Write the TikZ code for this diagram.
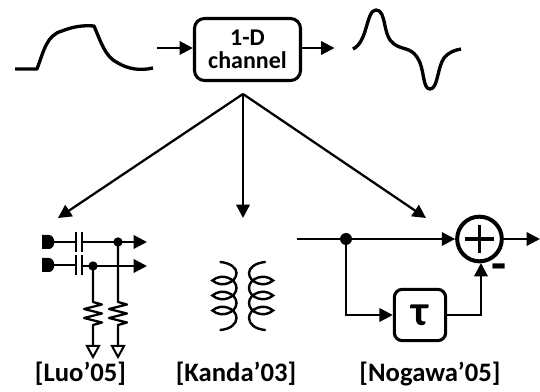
\documentclass[tikz,border=0pt]{standalone}
\usepackage{fontspec}
\setmainfont{Carlito}
\usetikzlibrary{arrows.meta}
\tikzset{
  x=0.75pt,y=-0.75pt,
  wire/.style={line width=1.7pt,line join=miter},
  arr/.style={wire,-{Triangle[length=10pt,width=10pt]}},
  wave/.style={line width=2.5pt,line cap=butt,line join=round},
  roundbox/.style={draw,line width=2.3pt,rounded corners=7.5pt,inner sep=0pt,align=center,font=\bfseries\fontsize{18}{17.25}\selectfont},
  lab/.style={font=\bfseries\fontsize{20}{22}\selectfont,inner sep=0pt,anchor=base},
  dot/.style={circle,fill=black,draw=none,minimum size=9pt,inner sep=0pt},
  gnd/.style={draw,line width=1.5pt,fill=white,line join=miter},
  plate/.style={line width=1.9pt},
  coil/.style={line width=1.8pt,line cap=round},
}
\begin{document}
\begin{tikzpicture}
\useasboundingbox (0,0) rectangle (540,392);
% input and output waveforms
\draw[wave] (15,69) -- (37,69) .. controls (44,50) and (47,35) .. (62,31)
  .. controls (72,27) and (82,25) .. (94,26)
  .. controls (101,42) and (105,57) .. (118,63)
  .. controls (128,69) and (140,71) .. (153,68);
\draw[wave] (353,49) .. controls (368,42) and (366,10) .. (376,10)
  .. controls (387,10) and (382,36) .. (394,44)
  .. controls (402,50) and (410,47) .. (417,57)
  .. controls (425,68) and (422,89) .. (430,89)
  .. controls (438,89) and (437,68) .. (444,58)
  .. controls (449,52) and (455,50) .. (461,49);
% channel box
\node[roundbox,minimum width=79.5pt,minimum height=46.5pt] (chan) at (247.5,49.5) {1-D\\channel};
\coordinate (inL) at (157,48);
\coordinate (outR) at (334.5,48);
\coordinate (outS) at (299,48);
\draw[arr] (inL) -- (chan.west |- inL);
\draw[arr] (outS) -- (outR);
% fan-out
\coordinate (fan) at (243,94);
\coordinate (f1) at (58,218);
\coordinate (f2) at (243,218);
\coordinate (f3) at (426,218);
\draw[arr] (fan) -- (f1);
\draw[arr] (fan) -- (f2);
\draw[arr] (fan) -- (f3);
% Luo circuit
\coordinate (pa) at (53,242);
\coordinate (pb) at (53,265);
\fill (42,235) -- (49,235) .. controls (56,235) and (56,249) .. (49,249) -- (42,249) -- cycle;
\fill (42,258) -- (49,258) .. controls (56,258) and (56,272) .. (49,272) -- (42,272) -- cycle;
\coordinate (ca1) at (76,242);
\coordinate (ca2) at (82,242);
\coordinate (cb1) at (76,265);
\coordinate (cb2) at (82,265);
\coordinate (ta) at (147,242);
\coordinate (tb) at (147,266);
\draw[wire] (pa) -- (ca1);
\draw[wire] (pb) -- (cb1);
\draw[plate] (76,232) -- (76,252) (82,232) -- (82,252);
\draw[plate] (76,255) -- (76,275) (82,255) -- (82,275);
\draw[arr] (ca2) -- (ta);
\draw[arr] (cb2 |- tb) -- (tb);
\node[dot,minimum size=7pt] (da) at (118,242) {};
\node[dot,minimum size=7pt] (db) at (93,266) {};
\foreach \cx/\dn in {93/db,118/da}{
  \draw[wire,line join=round] (\dn.center) -- (\cx,302) -- ++(9,2.5) -- ++(-18,4.5) -- ++(18,4.5) -- ++(-18,4.5) -- ++(18,4.5) -- ++(-9,2.5) -- (\cx,346);
  \draw[gnd] (\cx-6,346) -- (\cx+6,346) -- (\cx,357) -- cycle;
}
\node[lab] (l1) at (80.5,382) {[Luo’05]};
% Kanda transformer: two helices, mirrored
\foreach \xc/\s in {224.5/1,261/-1}{
  \draw[coil] (\xc-\s*4,262) .. controls (\xc+\s*6,263) and (\xc+\s*12,268) .. (\xc+\s*12,273);
  \foreach \yy in {273,288,303}{
    \draw[coil] (\xc+\s*12,\yy) .. controls (\xc+\s*12,\yy+9.5) and (\xc-\s*3,\yy+15.5) .. (\xc-\s*12,\yy+7.5)
      .. controls (\xc-\s*3,\yy-0.5) and (\xc+\s*12,\yy+5.5) .. (\xc+\s*12,\yy+15);
  }
  \draw[coil] (\xc+\s*12,318) .. controls (\xc+\s*12,324) and (\xc+\s*6,329) .. (\xc-\s*4,330);
}
\node[lab] (l2) at (236,382) {[Kanda’03]};
% Nogawa delay
\coordinate (in3) at (297,239);
\node[dot] (d3) at (346,239) {};
\node[circle,draw,line width=3pt,minimum size=33.5pt,inner sep=0pt] (sum) at (479.5,239) {};
\draw[line width=2.3pt] (465,239) -- (494,239) (479.5,225) -- (479.5,253);
\coordinate (o3) at (540,239);
\draw[wire] (in3) -- (d3);
\draw[arr] (d3) -- (sum.west);
\draw[arr] (sum.east) -- (o3);
\node[roundbox,minimum width=38.5pt,minimum height=38.5pt,font=\bfseries\fontsize{32}{32}\selectfont,rounded corners=6pt] (tau) at (420,315) {τ};
\coordinate (s3) at (481,263);
\draw[arr] (d3) |- (tau.west);
\draw[arr] (tau.east) -| (s3);
\node[font=\bfseries\fontsize{37}{37}\selectfont,inner sep=0pt] (minus) at (499,272) {-};
\node[lab] (l3) at (430,382) {[Nogawa’05]};
\end{tikzpicture}
\end{document}
